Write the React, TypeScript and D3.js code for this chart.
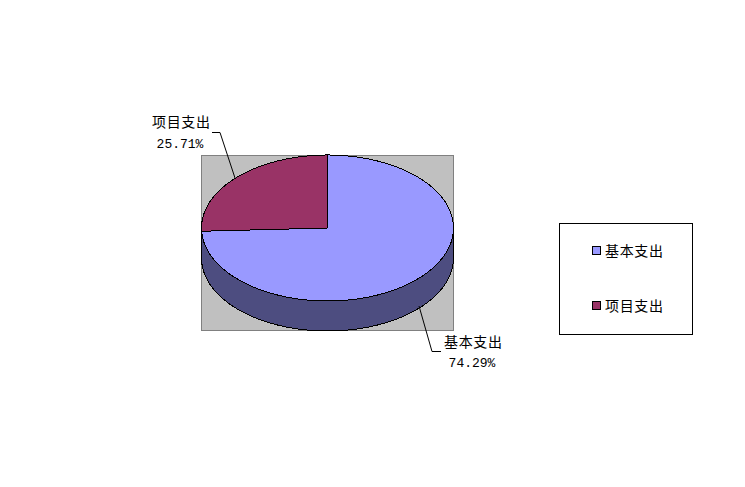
import React from "react";
import * as d3 from "d3";

const categories = ["基本支出", "项目支出"];
const shareValues = [74.29, 25.71];
const shareLabels = ["74.29%", "25.71%"];
const topColors = ["#9999ff", "#993366"];
const sideColors = ["#4d4d80", "#4d1a33"];

const W = 745, H = 487;
const plot = { x0: 201, x1: 453, y0: 155, y1: 330 };
const cx = 327.5, cy = 228, rx = 126, ry = 73, depth = 30;
const CJK = "'Noto Sans CJK SC', sans-serif";
const MONO = "'Liberation Mono', 'DejaVu Sans Mono', monospace";

const pt = (a: number, dy = 0): [number, number] => [cx + rx * Math.sin(a), cy + dy - ry * Math.cos(a)];

function arcPts(a0: number, a1: number, dy = 0) {
  const n = Math.max(2, Math.ceil(Math.abs(a1 - a0) / 0.02));
  const s = d3.scaleLinear().domain([0, n]).range([a0, a1]);
  return d3.range(n + 1).map((i) => pt(s(i), dy));
}

export default function App() {
  const pie = d3.pie<number>().sort(null).value((d) => d)(shareValues);
  const line = d3.line();
  const frontA = Math.PI / 2, frontB = (3 * Math.PI) / 2;
  const sides = pie.map((p, i) => {
    const a = Math.max(p.startAngle, frontA), b = Math.min(p.endAngle, frontB);
    if (b <= a) return null;
    const pts = [...arcPts(a, b), ...arcPts(b, a, depth)];
    return <path key={i} d={line(pts) + "Z"} fill={sideColors[i]} stroke="#000" strokeWidth={1} />;
  });
  const tops = pie.map((p, i) => (
    <path key={i} d={line([[cx, cy], ...arcPts(p.startAngle, p.endAngle)]) + "Z"} fill={topColors[i]} stroke="#000" strokeWidth={1} />
  ));
  const label = { fontFamily: CJK, fontSize: 14, fill: "#000" } as const;
  const pct = { fontFamily: MONO, fontSize: 13, fill: "#000", textAnchor: "middle" } as const;
  return (
    <svg width={W} height={H} viewBox={`0 0 ${W} ${H}`} style={{ position: "fixed", left: 0, top: 0, background: "#fff" }}>
      <rect x={plot.x0 + 0.5} y={plot.y0 + 0.5} width={plot.x1 - plot.x0} height={plot.y1 - plot.y0} fill="#c0c0c0" stroke="#808080" />
      <g shapeRendering="crispEdges">{sides}{tops}</g>
      <path d="M235,178L220,132.5L212,132.5" fill="none" stroke="#000" />
      <path d="M419,306L432,351.5L441,351.5" fill="none" stroke="#000" />
      <text x={152} y={127} textLength={58} {...label}>{categories[1]}</text>
      <text x={180} y={148} {...pct}>{shareLabels[1]}</text>
      <text x={444} y={347} textLength={58} {...label}>{categories[0]}</text>
      <text x={472} y={367} {...pct}>{shareLabels[0]}</text>
      <rect x={559.5} y={223.5} width={133} height={111} fill="#fff" stroke="#000" />
      {categories.map((c, i) => (
        <g key={c}>
          <rect x={592.5} y={246.5 + i * 55} width={8} height={8} fill={topColors[i]} stroke="#000" />
          <text x={605} y={256 + i * 55} textLength={58} {...label}>{c}</text>
        </g>
      ))}
    </svg>
  );
}
